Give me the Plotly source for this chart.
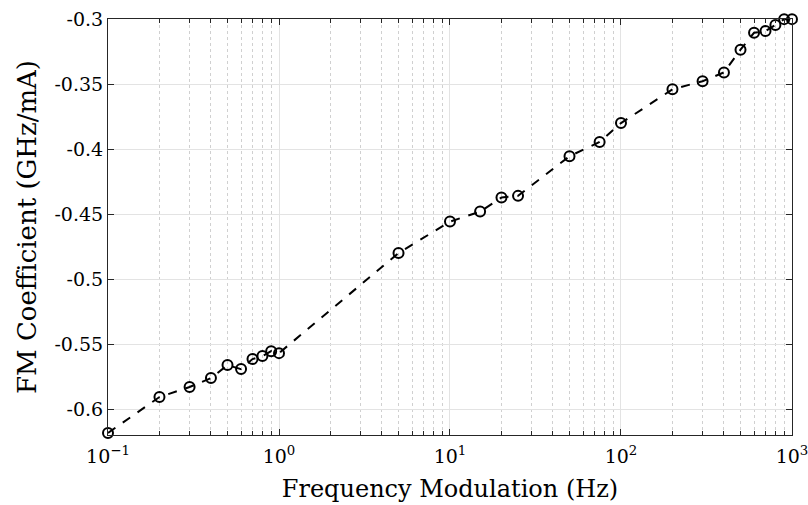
import plotly.graph_objects as go

freq_hz = [0.1, 0.2, 0.3, 0.4, 0.5, 0.6, 0.7, 0.8, 0.9, 1.0,
           5, 10, 15, 20, 25, 50, 75, 100,
           200, 300, 400, 500, 600, 700, 800, 900, 1000]
fm_coeff = [-0.6184, -0.5908, -0.5831, -0.5762, -0.5662, -0.5693, -0.5616, -0.5593, -0.5555, -0.5570,
            -0.4800, -0.4558, -0.4481, -0.4373, -0.4360, -0.4055, -0.3945, -0.3800,
            -0.3540, -0.3478, -0.3410, -0.3235, -0.3105, -0.3092, -0.3045, -0.3000, -0.3000]

x_tickvals = [0.1, 1, 10, 100, 1000]
x_ticktext = ["10<sup>\u22121</sup>", "10<sup>0</sup>", "10<sup>1</sup>", "10<sup>2</sup>", "10<sup>3</sup>"]
x_minor_vals = [m * d for d in [0.1, 1, 10, 100] for m in range(2, 10)]
y_tickvals = [-0.6, -0.55, -0.5, -0.45, -0.4, -0.35, -0.3]
y_ticktext = ["-0.6", "-0.55", "-0.5", "-0.45", "-0.4", "-0.35", "-0.3"]

font_family = "DejaVu Serif, Liberation Serif, serif"

fig = go.Figure()
fig.add_trace(go.Scatter(
    x=freq_hz, y=fm_coeff, mode="lines+markers",
    line=dict(color="black", width=2, dash="dash"),
    marker=dict(symbol="circle-open", size=10, color="black", line=dict(width=2, color="black")),
    cliponaxis=False, showlegend=False,
))

fig.update_layout(
    width=808, height=505,
    margin=dict(l=108, r=16, t=19, b=70),
    paper_bgcolor="white", plot_bgcolor="white",
    font=dict(family=font_family, color="black", size=19),
    xaxis=dict(
        type="log", range=[-1, 3.0001], automargin=False,
        tickvals=x_tickvals, ticktext=x_ticktext, ticklabeloverflow="allow",
        ticks="inside", ticklen=6, tickcolor="#262626", ticklabelstandoff=4,
        showline=True, linecolor="#262626", linewidth=1, mirror="ticks",
        showgrid=True, gridcolor="#e3e3e3", gridwidth=1,
        minor=dict(tickvals=x_minor_vals, ticks="inside", ticklen=4, tickcolor="#262626",
                   showgrid=True, gridcolor="#d0d0d0", griddash="dot", gridwidth=1),
        zeroline=False,
        title=dict(text="Frequency Modulation (Hz)", font=dict(size=24), standoff=14),
        tickfont=dict(size=19),
    ),
    yaxis=dict(
        range=[-0.62, -0.2999], automargin=False,
        tickvals=y_tickvals, ticktext=y_ticktext, ticklabeloverflow="allow",
        ticks="inside", ticklen=6, tickcolor="#262626",
        showline=True, linecolor="#262626", linewidth=1, mirror="ticks",
        showgrid=True, gridcolor="#e3e3e3", gridwidth=1,
        zeroline=False,
        title=dict(text="FM Coefficient (GHz/mA)", font=dict(size=26), standoff=10),
        tickfont=dict(size=19),
    ),
)

fig.write_html("out.html", config={"displayModeBar": False},
               post_script="document.body.style.margin='0';")
